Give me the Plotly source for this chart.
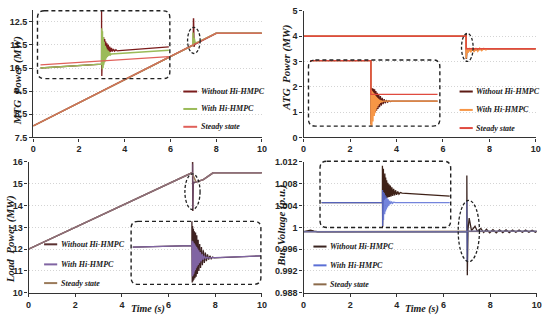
import plotly.graph_objects as go

W, H = 550, 322

# ---------------- data ----------------
# Panel 1: MTG power (MW)
mtg_t_without = [0, 7.0, 7.01, 7.03, 7.06, 8, 10]
mtg_without = [8, 11.5, 12.65, 11.42, 11.53, 12, 12]
mtg_t_with = [0, 6.98, 6.99, 7.0, 7.01, 7.02, 7.04, 7.08, 7.15, 8, 10]
mtg_with = [8, 11.49, 12.04, 11.48, 11.95, 11.55, 11.8, 11.6, 11.6, 12, 12]
mtg_t_steady = [0, 8, 10]
mtg_steady = [8, 12, 12]

# Panel 2: ATG power (MW)
atg_t_without = [0, 7.0, 7.0, 7.01, 7.03, 7.3, 7.6, 7.9, 10]
atg_without = [4, 4, 4.08, 3.1, 3.42, 3.45, 3.48, 3.5, 3.5]
atg_t_with = [0, 7.0, 7.0, 7.03, 7.08, 7.14, 7.2, 7.27, 7.34, 7.42, 7.5, 7.58, 7.67, 7.76, 7.85, 7.92, 10]
atg_with = [4, 4, 3.12, 3.54, 3.34, 3.535, 3.36, 3.53, 3.38, 3.525, 3.40, 3.52, 3.43, 3.51, 3.46, 3.50, 3.5]
atg_t_steady = [0, 7.0, 7.0, 10]
atg_steady = [4, 4, 3.5, 3.5]

# Panel 3: Load power (MW)
load_t_without = [0, 7.0, 7.03, 7.03, 7.04, 7.06, 7.18, 7.49, 7.91, 10]
load_without = [12, 15.5, 15.52, 16.3, 13.75, 15.05, 15.08, 15.19, 15.5, 15.5]
load_t_with = [0, 7.0, 7.03, 7.03, 7.04, 7.06, 7.18, 7.49, 7.91, 10]
load_with = [12, 15.5, 15.52, 15.9, 13.85, 15.05, 15.08, 15.19, 15.5, 15.5]
load_t_steady = [0, 7.0, 7.18, 7.49, 7.91, 10]
load_steady = [12, 15.5, 15.08, 15.19, 15.5, 15.5]

# Panel 4: Bus voltage (p.u.)
bus_t_without = [0, 0.15, 0.3, 0.45, 0.6, 7.0, 7.0, 7.02, 7.05, 7.1, 7.2, 7.35, 7.45, 7.6,
                 7.72, 7.84, 7.98, 8.12, 8.26, 8.4, 8.54, 8.68, 8.82, 8.96, 9.1, 9.24, 9.38,
                 9.52, 9.66, 9.8, 9.94, 10]
bus_without = [0.9992, 0.9993, 0.9995, 0.9993, 0.9992, 0.9992, 1.0095, 0.9912, 0.9996, 1.0017,
               0.9994, 1.0002, 0.9993, 0.9998, 0.99905, 0.99965, 0.9990, 0.9996, 0.9990,
               0.99955, 0.99905, 0.99955, 0.99905, 0.9995, 0.9991, 0.9995, 0.9991, 0.9995,
               0.9991, 0.99945, 0.9991, 0.9993]
bus_t_with = [0, 7.0, 7.0, 7.01, 7.03, 10]
bus_with = [0.9992, 0.9992, 1.0048, 0.9938, 0.9993, 0.9993]
bus_t_steady = [0, 7.0, 7.05, 10]
bus_steady = [0.9992, 0.9992, 0.9993, 0.9993]

# ---- zoomed insets (around t = 7 s) ----
in1_t_without = [6.9045, 6.9968, 6.9968, 6.9972, 6.9985, 6.9992, 7.0000, 7.0008, 7.0016, 7.0024,
                 7.0032, 7.0040, 7.0050, 7.0060, 7.0070, 7.0080, 7.0092, 7.0104, 7.0118, 7.0132,
                 7.0148, 7.0165, 7.0185, 7.0205, 7.0236, 7.0985]
in1_without = [11.455, 11.475, 11.76, 11.414, 11.60, 11.522, 11.615, 11.525, 11.605, 11.528,
               11.592, 11.531, 11.582, 11.534, 11.574, 11.536, 11.566, 11.538, 11.559, 11.540,
               11.553, 11.542, 11.549, 11.543, 11.545, 11.5635]
in1_t_with = [6.9045, 6.9968, 6.9971, 6.9974, 6.9977, 6.9980, 6.9983, 6.9986, 6.9989, 6.9992,
              6.9995, 6.9998, 7.0001, 7.0004, 7.0008, 7.0012, 7.0016, 7.0020, 7.0025, 7.0030,
              7.0036, 7.0042, 7.0050, 7.0058, 7.0068, 7.0078, 7.0090, 7.0102, 7.0117, 7.0985]
in1_with = [11.455, 11.475, 11.66, 11.45, 11.655, 11.448, 11.645, 11.455, 11.63, 11.46,
            11.615, 11.47, 11.60, 11.478, 11.59, 11.485, 11.58, 11.49, 11.57, 11.497,
            11.56, 11.505, 11.552, 11.512, 11.545, 11.518, 11.538, 11.522, 11.527, 11.5465]
in1_t_steady = [6.9045, 7.0985]
in1_steady = [11.4715, 11.5135]

in2_t_without = [6.9025, 6.995, 6.995, 6.9958, 6.9966, 6.9974, 6.9982, 6.999, 6.9998, 7.0007,
                 7.0016, 7.0026, 7.0036, 7.0047, 7.0058, 7.007, 7.0082, 7.0095, 7.0108, 7.0122,
                 7.0136, 7.0152, 7.0168, 7.0186, 7.0205, 7.0225, 7.0245, 7.027, 7.0965]
in2_without = [4.0, 4.0, 3.06, 3.60, 3.12, 3.59, 3.18, 3.585, 3.22, 3.575,
               3.24, 3.55, 3.26, 3.525, 3.285, 3.50, 3.31, 3.475, 3.335, 3.45,
               3.355, 3.43, 3.37, 3.415, 3.385, 3.405, 3.395, 3.40, 3.40]
in2_t_with = [6.9025, 6.995, 6.995, 6.9954, 6.9958, 6.9962, 6.9966, 6.997, 6.9974, 6.9978,
              6.9982, 6.9987, 6.9992, 6.9997, 7.0002, 7.0008, 7.0014, 7.002, 7.0027, 7.0034,
              7.0042, 7.005, 7.0059, 7.0068, 7.0078, 7.0088, 7.01, 7.0112, 7.0125, 7.014, 7.0965]
in2_with = [4.0, 4.0, 3.0, 3.56, 3.02, 3.55, 3.04, 3.54, 3.07, 3.53,
            3.10, 3.52, 3.14, 3.51, 3.18, 3.495, 3.22, 3.48, 3.26, 3.465,
            3.30, 3.45, 3.33, 3.435, 3.355, 3.42, 3.375, 3.41, 3.39, 3.402, 3.40]
in2_t_steady = [6.9025, 6.995, 6.995, 7.0965]
in2_steady = [4.0, 4.0, 3.5, 3.5]

in3_t_without = [6.9026, 6.9937, 6.9937, 6.9942, 6.9948, 6.9954, 6.996, 6.9967, 6.9975, 6.9984,
                 6.9993, 7.0002, 7.0012, 7.0022, 7.0033, 7.0045, 7.0057, 7.007, 7.0084, 7.0098,
                 7.0113, 7.0128, 7.0144, 7.016, 7.0177, 7.0195, 7.0214, 7.0234, 7.0255, 7.0277, 7.1]
in3_without = [15.467, 15.523, 16.40, 14.25, 16.2, 14.3, 16.1, 14.35, 16.02, 14.40,
               15.97, 14.45, 15.88, 14.55, 15.72, 14.65, 15.58, 14.75, 15.47, 14.85,
               15.36, 14.93, 15.28, 14.99, 15.22, 15.04, 15.17, 15.07, 15.13, 15.10, 15.167]
in3_t_with = [6.9026, 6.9937, 6.994, 6.9943, 6.9946, 6.995, 6.9954, 6.9958, 6.9962, 6.9967,
              6.9972, 6.9977, 6.9983, 6.9989, 6.9995, 7.0002, 7.0009, 7.0017, 7.0025, 7.0034,
              7.0044, 7.0055, 7.0067, 7.008, 7.0095, 7.011, 7.0127, 7.0145, 7.0165, 7.0185, 7.1]
in3_with = [15.467, 15.523, 15.69, 14.47, 15.68, 14.50, 15.66, 14.54, 15.63, 14.58,
            15.60, 14.63, 15.56, 14.68, 15.52, 14.74, 15.47, 14.80, 15.42, 14.86,
            15.36, 14.92, 15.30, 14.98, 15.24, 15.03, 15.18, 15.07, 15.13, 15.10, 15.167]

in4_t_without = [6.9025, 6.9955, 6.9955, 6.9958, 6.9962, 6.9966, 6.997, 6.9975, 6.998, 6.9986,
                 6.9992, 6.9998, 7.0005, 7.0012, 7.002, 7.0028, 7.0037, 7.0046, 7.0056, 7.0066,
                 7.0077, 7.0088, 7.01, 7.0113, 7.0127, 7.0141, 7.0156, 7.0172, 7.019, 7.0208,
                 7.0228, 7.0256, 7.0985]
in4_without = [0.9992, 0.9992, 1.0030, 0.9967, 1.0029, 0.9994, 1.0027, 0.9995, 1.0025, 0.99955,
               1.0022, 0.9996, 1.0018, 0.99965, 1.0015, 0.9997, 1.00125, 0.99975, 1.0011, 0.9998,
               1.00097, 0.99985, 1.00078, 0.9999, 1.00062, 0.99995, 1.00048, 1.0000, 1.00036, 1.00008,
               1.00025, 1.00018, 0.99987]
in4_t_with = [6.9025, 6.9955, 6.9957, 6.9959, 6.9962, 6.9965, 6.9968, 6.9972, 6.9976, 6.998,
              6.9985, 6.999, 6.9996, 7.0002, 7.0009, 7.0016, 7.0024, 7.0033, 7.0043, 7.0054,
              7.0066, 7.008, 7.0095, 7.011, 7.0128, 7.0155, 7.0985]
in4_with = [0.9992, 0.9992, 1.0005, 0.9968, 1.0004, 0.9971, 1.0003, 0.9974, 1.0002, 0.9977,
            1.0001, 0.9980, 1.0000, 0.9983, 0.99985, 0.9985, 0.9997, 0.9987, 0.99955, 0.9989,
            0.9994, 0.99905, 0.99932, 0.99912, 0.99925, 0.9992, 0.9992]

x_ticks = [0, 2, 4, 6, 8, 10]
y1_ticks = [7.5, 8.5, 9.5, 10.5, 11.5, 12.5]
y2_ticks = [0, 1, 2, 3, 4, 5]
y3_ticks = [10, 11, 12, 13, 14, 15, 16]
y4_ticks = [0.988, 0.992, 0.996, 1.0, 1.004, 1.008, 1.012]
y4_labels = ["0.988", "0.992", "0.996", "1", "1.004", "1.008", "1.012"]

legend_names = ["Without Hi-HMPC", "With Hi-HMPC", "Steady state"]

# ---------------- styling ----------------
C1 = {"without": "#7b1c1c", "with": "#9bbb59", "steady": "#e0605a"}
C2 = {"without": "#5c1a14", "with": "#f79646", "steady": "#e04a3f"}
C3 = {"without": "#5a3030", "with": "#8064a2", "steady": "#9a7a5a"}
C4 = {"without": "#3a2420", "with": "#5b6fd6", "steady": "#8b6a4a"}

SERIF = "Liberation Serif"
SANS = "Liberation Sans"


def fx(p):
    return p / W


def fy(p):
    return 1 - p / H


def dom_x(a, b):
    return [fx(a), fx(b)]


def dom_y(top, bottom):
    return [fy(bottom), fy(top)]


fig = go.Figure()


def add(x, y, color, xa, ya, width=1.5, opacity=1.0):
    fig.add_trace(go.Scatter(x=x, y=y, mode="lines", xaxis=xa, yaxis=ya,
                             line=dict(color=color, width=width), opacity=opacity,
                             showlegend=False, hoverinfo="skip"))


# main panels
add(mtg_t_without, mtg_without, C1["without"], "x", "y")
add(mtg_t_with, mtg_with, C1["with"], "x", "y")
add(mtg_t_steady, mtg_steady, C1["steady"], "x", "y", opacity=0.8)

add(atg_t_without, atg_without, C2["without"], "x2", "y2")
add(atg_t_with, atg_with, C2["with"], "x2", "y2")
add(atg_t_steady, atg_steady, C2["steady"], "x2", "y2")

add(load_t_without, load_without, C3["without"], "x3", "y3")
add(load_t_steady, load_steady, C3["steady"], "x3", "y3")
add(load_t_with, load_with, C3["with"], "x3", "y3", opacity=0.45)

add(bus_t_without, bus_without, C4["without"], "x4", "y4", width=1.3)
add(bus_t_steady, bus_steady, C4["steady"], "x4", "y4", width=1.3)
add(bus_t_with, bus_with, C4["with"], "x4", "y4", width=1.3, opacity=0.6)

# insets
add(in1_t_without, in1_without, C1["without"], "x5", "y5", width=1.3)
add(in1_t_with, in1_with, C1["with"], "x5", "y5", width=1.4)
add(in1_t_steady, in1_steady, C1["steady"], "x5", "y5", width=1.3)

add(in2_t_without, in2_without, C2["without"], "x6", "y6", width=1.3)
add(in2_t_with, in2_with, C2["with"], "x6", "y6", width=1.3)
add(in2_t_steady, in2_steady, C2["steady"], "x6", "y6", width=1.3)

add(in3_t_without, in3_without, "#3e2222", "x7", "y7", width=1.3)
add(in3_t_with, in3_with, C3["with"], "x7", "y7", width=1.3)

add(in4_t_without, in4_without, "#3f2218", "x8", "y8", width=1.3)
add(in4_t_with, in4_with, C4["with"], "x8", "y8", width=1.3, opacity=0.85)

tickfont = dict(family=SANS, size=9, color="#262626", weight="bold")


def main_x(domain, anchor):
    return dict(domain=domain, anchor=anchor, range=[0, 10], tickvals=x_ticks,
                showgrid=False, zeroline=False, showline=True, linecolor="#333333",
                linewidth=1.3, ticks="outside", ticklen=3, tickcolor="#333333",
                tickfont=tickfont, fixedrange=True)


def main_y(domain, anchor, rng, tv, tt=None):
    d = dict(domain=domain, anchor=anchor, range=rng, tickvals=tv,
             showgrid=True, gridcolor="#d4d4d4", griddash="1px,2px", gridwidth=1,
             zeroline=False, showline=True, linecolor="#333333", linewidth=1.3,
             ticks="outside", ticklen=3, tickcolor="#333333", tickfont=tickfont,
             fixedrange=True)
    if tt is not None:
        d["ticktext"] = tt
    return d


def inset_axes(xd, yd, xr, yr, xa, ya):
    return (dict(domain=xd, anchor=ya, range=xr, visible=False, fixedrange=True),
            dict(domain=yd, anchor=xa, range=yr, visible=False, fixedrange=True))


P1 = (30.7, 262.7, 5.4, 136.7)
P2 = (305, 540.7, 6.0, 136.7)
P3 = (26, 262.7, 162, 297)
P4 = (305, 541.7, 162, 297)

BOX1 = (35, 169.3, 6, 76)
BOX2 = (310, 443.3, 56.7, 125)
BOX3 = (130, 261.7, 223.3, 288.3)
BOX4 = (321.7, 454.3, 161.3, 229.7)

layout = dict(width=W, height=H, margin=dict(l=0, r=0, t=0, b=0), autosize=False,
              paper_bgcolor="white", plot_bgcolor="rgba(0,0,0,0)", showlegend=False)
layout["xaxis"] = main_x(dom_x(P1[0], P1[1]), "y")
layout["yaxis"] = main_y(dom_y(P1[2], P1[3]), "x", [7.5, 13], y1_ticks)
layout["xaxis2"] = main_x(dom_x(P2[0], P2[1]), "y2")
layout["yaxis2"] = main_y(dom_y(P2[2], P2[3]), "x2", [0, 5], y2_ticks)
layout["xaxis3"] = main_x(dom_x(P3[0], P3[1]), "y3")
layout["yaxis3"] = main_y(dom_y(P3[2], P3[3]), "x3", [10, 16], y3_ticks)
layout["xaxis4"] = main_x(dom_x(P4[0], P4[1]), "y4")
layout["yaxis4"] = main_y(dom_y(P4[2], P4[3]), "x4", [0.988, 1.012], y4_ticks, y4_labels)

for i, (box, yr) in enumerate([(BOX1, [11.40, 11.75]), (BOX2, [3.030, 4.0115]),
                               (BOX3, [14.19, 16.356]), (BOX4, [0.99663, 1.00347])]):
    n = i + 5
    xa, ya = inset_axes(dom_x(box[0], box[1]), dom_y(box[2], box[3]), [6.9, 7.1], yr,
                        f"x{n}", f"y{n}")
    layout[f"xaxis{n}"] = xa
    layout[f"yaxis{n}"] = ya

fig.update_layout(**layout)


# dashed rounded boxes around insets
def rounded(box, r=7):
    x0, x1, y0, y1 = box
    return (f"M {fx(x0 + r)},{fy(y0)} L {fx(x1 - r)},{fy(y0)} Q {fx(x1)},{fy(y0)} {fx(x1)},{fy(y0 + r)} "
            f"L {fx(x1)},{fy(y1 - r)} Q {fx(x1)},{fy(y1)} {fx(x1 - r)},{fy(y1)} "
            f"L {fx(x0 + r)},{fy(y1)} Q {fx(x0)},{fy(y1)} {fx(x0)},{fy(y1 - r)} "
            f"L {fx(x0)},{fy(y0 + r)} Q {fx(x0)},{fy(y0)} {fx(x0 + r)},{fy(y0)} Z")


for box in (BOX1, BOX2, BOX3, BOX4):
    fig.add_shape(type="path", path=rounded(box), xref="paper", yref="paper",
                  line=dict(color="#222222", width=1.4, dash="4px,3px"))

# dashed ellipses around the t = 7 s event
for xr, yr, (xa, ya) in [((6.75, 7.3), (11.13, 12.26), ("x", "y")),
                         ((6.8, 7.3), (3.0, 4.11), ("x2", "y2")),
                         ((6.7, 7.35), (13.82, 15.45), ("x3", "y3")),
                         ((6.63, 7.54), (0.9937, 1.00495), ("x4", "y4"))]:
    fig.add_shape(type="circle", xref=xa, yref=ya, x0=xr[0], x1=xr[1], y0=yr[0], y1=yr[1],
                  line=dict(color="#222222", width=1.3, dash="3px,2px"))

# legends (line key + label)
leg_font = dict(family=SERIF, size=8, color="#1a1a1a", weight="bold", style="italic")
for colors, kx0, kx1, rows in [(C1, 183, 197, (89.3, 107.3, 125.7)),
                               (C2, 463.3, 476.7, (89.3, 108.3, 127)),
                               (C3, 41.7, 55, (247, 267.7, 287)),
                               (C4, 315, 328.3, (249.3, 268.7, 288.3))]:
    for key, name, ry in zip(["without", "with", "steady"], legend_names, rows):
        fig.add_shape(type="line", xref="paper", yref="paper", x0=fx(kx0), x1=fx(kx1),
                      y0=fy(ry), y1=fy(ry), line=dict(color=colors[key], width=2))
        fig.add_annotation(x=fx(kx1 + 1.5), y=fy(ry), xref="paper", yref="paper",
                           text=name, showarrow=False, xanchor="left", yanchor="middle",
                           font=leg_font)

# axis titles
for text, x, y, ang, size in [("MTG  Power (MW)", 15, 78, -90, 11),
                              ("ATG  Power (MW)", 288, 65, -90, 11),
                              ("Load  Power (MW)", 8, 242, -90, 11),
                              ("Bus Voltage (p.u.)", 283, 228, -90, 11),
                              ("Time (s)", 147, 314, 0, 10),
                              ("Time (s)", 425, 314, 0, 10)]:
    fig.add_annotation(x=fx(x), y=fy(y), xref="paper", yref="paper", text=text,
                       showarrow=False, textangle=ang, xanchor="center", yanchor="middle",
                       font=dict(family=SERIF, size=size, color="#1a1a1a",
                                 weight="bold", style="italic"))

fig.write_html("out.html", config={"displayModeBar": False},
               post_script="document.body.style.margin='0';document.body.style.padding='0';"
                           "document.documentElement.style.overflow='hidden';")
